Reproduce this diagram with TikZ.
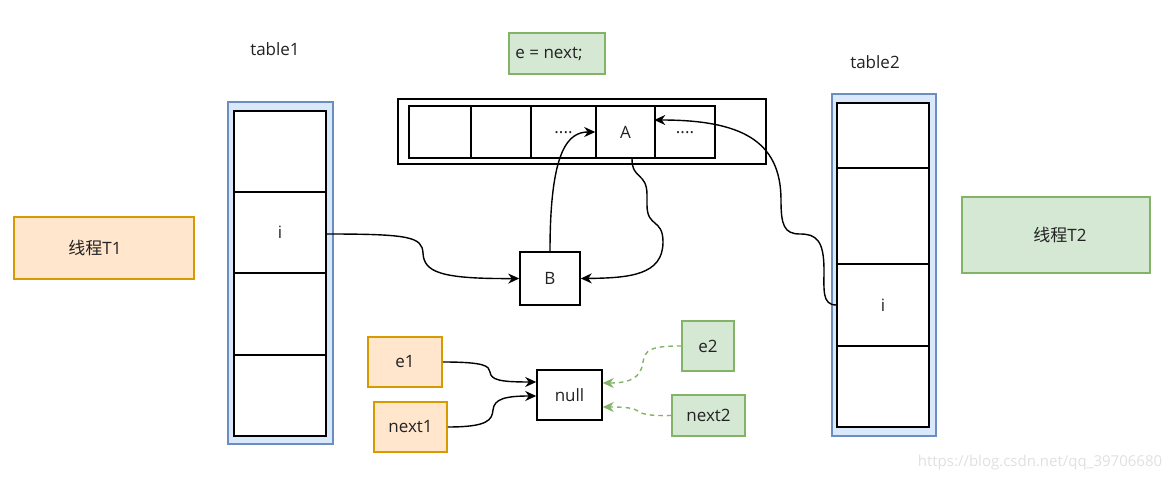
\documentclass[tikz,border=0pt]{standalone}
\usepackage{fontspec}
\setmainfont{Open Sans}
\newfontfamily\cjk{Noto Sans CJK SC}
\usetikzlibrary{arrows.meta}
\definecolor{bfill}{HTML}{DAE8FC}\definecolor{bline}{HTML}{6C8EBF}
\definecolor{ofill}{HTML}{FFE6CC}\definecolor{oline}{HTML}{D79B00}
\definecolor{gfill}{HTML}{D5E8D4}\definecolor{gline}{HTML}{82B366}
\definecolor{txt}{HTML}{222222}
\tikzset{
  fnt/.style={font=\fontsize{17}{20}\selectfont},
  cell/.style={draw=black,line width=1.5pt,fill=white,inner sep=0pt,text=txt,fnt},
  bluebox/.style={draw=bline,line width=1.5pt,fill=bfill,inner sep=0pt},
  orbox/.style={draw=oline,line width=1.5pt,fill=ofill,inner sep=0pt,text=txt,fnt},
  grbox/.style={draw=gline,line width=1.5pt,fill=gfill,inner sep=0pt,text=txt,fnt},
  lbl/.style={inner sep=0pt,text=txt,fnt},
  conn/.style={draw=black,line width=1.4pt,-{Stealth[length=11pt,width=10pt,inset=3.5pt]}},
  gconn/.style={draw=gline,line width=1.4pt,dash pattern=on 4.5pt off 4pt,-{Stealth[length=11pt,width=10pt,inset=3.5pt]}},
}
\begin{document}
\begin{tikzpicture}[x=1pt,y=-1pt]
\useasboundingbox (0,0) rectangle (1171,481);
% table1
\node[lbl] (t1lbl) at (275,49) {table1};
\node[bluebox,minimum width=105pt,minimum height=342pt] (t1o) at (280.5,273) {};
\node[cell,minimum width=92pt,minimum height=81pt] (t1a) at (280,151.5) {};
\node[cell,minimum width=92pt,minimum height=81pt] (t1b) at (280,232.5) {i};
\node[cell,minimum width=92pt,minimum height=82pt] (t1c) at (280,314) {};
\node[cell,minimum width=92pt,minimum height=81pt] (t1d) at (280,395.5) {};
% thread T1
\node[orbox,minimum width=180pt,minimum height=62pt] (T1) at (104,248) {{\cjk 线程}T1\hspace*{18pt}};
% e = next
\node[grbox,minimum width=96pt,minimum height=41pt] (en) at (557,53.5) {\raisebox{-3pt}{e = next;}\hspace*{16pt}};
% array
\node[draw=black,line width=1.5pt,fill=white,minimum width=368pt,minimum height=65pt,inner sep=0pt] (arr) at (582,131.5) {};
\node[cell,minimum width=62pt,minimum height=52pt] (c1) at (440,132) {};
\node[cell,minimum width=60pt,minimum height=52pt] (c2) at (501,132) {};
\node[cell,minimum width=65pt,minimum height=52pt] (c3) at (563.5,132) {\raisebox{-3pt}{....}};
\node[cell,minimum width=59pt,minimum height=52pt] (c4) at (625.5,132) {A};
\node[cell,minimum width=60pt,minimum height=52pt] (c5) at (685,132) {\raisebox{-3pt}{....}};
% B and null
\node[cell,minimum width=60pt,minimum height=53pt] (B) at (550,278.5) {B};
\node[cell,minimum width=65pt,minimum height=50pt] (nl) at (569.5,395) {null};
% e1 next1 e2 next2
\node[orbox,minimum width=74pt,minimum height=50pt] (e1) at (405,362) {e1};
\node[orbox,minimum width=73pt,minimum height=50pt] (n1) at (410.5,427) {next1};
\node[grbox,minimum width=52pt,minimum height=50pt] (e2) at (708,346) {e2};
\node[grbox,minimum width=73pt,minimum height=41pt] (n2) at (708.5,415.5) {next2};
% table2
\node[lbl] (t2lbl) at (875,62) {table2};
\node[bluebox,minimum width=104pt,minimum height=342pt] (t2o) at (884,265) {};
\node[cell,minimum width=92pt,minimum height=65pt] (t2a) at (883,135.5) {};
\node[cell,minimum width=92pt,minimum height=96pt] (t2b) at (883,216) {};
\node[cell,minimum width=92pt,minimum height=82pt] (t2c) at (883,305) {i};
\node[cell,minimum width=92pt,minimum height=81pt] (t2d) at (883,386.5) {};
% thread T2
\node[grbox,minimum width=188pt,minimum height=76pt] (T2) at (1056,235) {\hspace*{8pt}\raisebox{-2pt}{{\cjk 线程}T2}};
% watermark
\node[inner sep=0pt,text=black!12,font=\fontsize{15}{18}\selectfont] (wm) at (1040,463) {https://blog.csdn.net/qq\_39706680};
% connectors
\draw[conn] ([yshift=-1.5pt]t1b.east) .. controls (410,234) and (422,237) .. (423,253)
  .. controls (424,272) and (440,279) .. (B.west);
\draw[conn] (B.north) .. controls (550,150) and (568,132) .. (c4.west);
\draw[conn] ([xshift=6.5pt]c4.south) .. controls (632,180) and (647,172) .. (647,195)
  -- (647,205) .. controls (647,228) and (663,218) .. (663,242)
  .. controls (663,275) and (630,278) .. (B.east);
\draw[conn] (t2c.west) .. controls (822,305) and (824,290) .. (824,270)
  .. controls (824,240) and (816,234) .. (800,234)
  .. controls (784,234) and (781,225) .. (781,200)
  .. controls (781,140) and (740,120) .. ([yshift=12pt]c5.west);
\draw[conn] (e1.east) .. controls (485,362) and (489,366) .. (490,372)
  .. controls (491,380) and (500,382) .. ([yshift=13pt]nl.west);
\draw[conn] (n1.east) .. controls (488,427) and (492,420) .. (493,410)
  .. controls (494,399) and (505,396) .. ([yshift=-1pt]nl.west);
\draw[gconn] (e2.west) .. controls (650,346) and (645,350) .. (643,362)
  .. controls (641,378) and (630,383) .. ([yshift=12pt]nl.east);
\draw[gconn] (n2.west) .. controls (648,416) and (642,414) .. (638,411)
  .. controls (634,408) and (625,407) .. ([yshift=-12pt]nl.east);
\end{tikzpicture}
\end{document}
